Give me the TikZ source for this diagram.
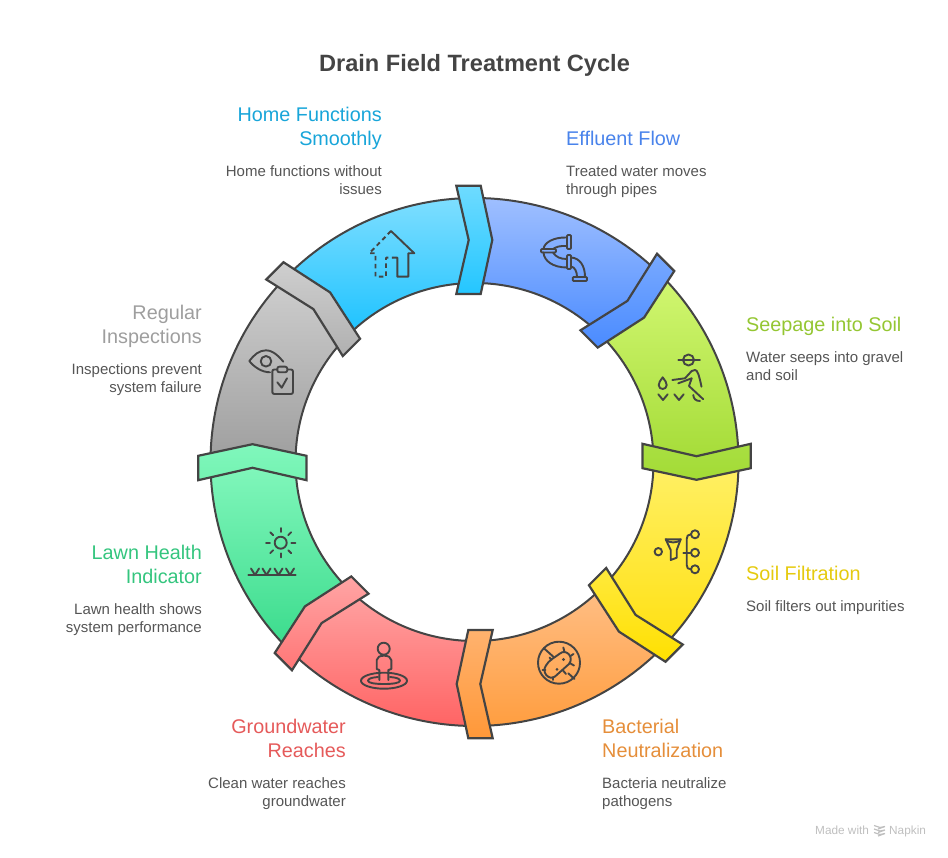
\documentclass[tikz,border=0pt]{standalone}
\usepackage{fontspec}
\setmainfont{Liberation Sans}
\usetikzlibrary{positioning,arrows.meta,calc}

\definecolor{inkline}{HTML}{444444}
\definecolor{inkbody}{HTML}{555555}
\definecolor{homeA}{HTML}{7EDEFF}     \definecolor{homeB}{HTML}{1CC2FF}
\definecolor{homeC}{HTML}{6EDBFF}     \definecolor{homeD}{HTML}{24C6FF}
\definecolor{effluentA}{HTML}{9FBFFF} \definecolor{effluentB}{HTML}{4F8EFF}
\definecolor{effluentC}{HTML}{78A9FF} \definecolor{effluentD}{HTML}{4A8BFF}
\definecolor{seepageA}{HTML}{D2F772}  \definecolor{seepageB}{HTML}{A5DC38}
\definecolor{seepageC}{HTML}{A9DF42}  \definecolor{seepageD}{HTML}{A3DB35}
\definecolor{filterA}{HTML}{FFF066}   \definecolor{filterB}{HTML}{FFE010}
\definecolor{filterC}{HTML}{FFE93C}   \definecolor{filterD}{HTML}{FFE000}
\definecolor{bacteriaA}{HTML}{FFBE85} \definecolor{bacteriaB}{HTML}{FF9E40}
\definecolor{bacteriaC}{HTML}{FFB26E} \definecolor{bacteriaD}{HTML}{FF9838}
\definecolor{groundA}{HTML}{FFA3A3}   \definecolor{groundB}{HTML}{FF6464}
\definecolor{groundC}{HTML}{FFA5A5}   \definecolor{groundD}{HTML}{FF7676}
\definecolor{lawnA}{HTML}{82F7BC}     \definecolor{lawnB}{HTML}{3ADB8C}
\definecolor{lawnC}{HTML}{80F7BC}     \definecolor{lawnD}{HTML}{74F3B2}
\definecolor{inspectA}{HTML}{CFCFCF}  \definecolor{inspectB}{HTML}{9E9E9E}
\definecolor{inspectC}{HTML}{CFCFCF}  \definecolor{inspectD}{HTML}{B0B0B0}

\begin{document}
\begin{tikzpicture}[
  x=1pt, y=-1pt,
  segment/.style={draw=inkline, line width=2pt},
  chevron/.style={draw=inkline, line width=2.2pt},
  icon/.style={draw=inkline, line width=1.9pt, line cap=round, line join=round},
  headtxt/.style={font=\fontsize{19.8}{24}\selectfont, inner sep=0pt},
  headl/.style={headtxt, anchor=north west, align=left},
  headr/.style={headtxt, anchor=north east, align=right},
  bodytxt/.style={font=\fontsize{15}{18}\selectfont, inner sep=0pt, text=inkbody},
  bodyl/.style={bodytxt, anchor=north west, align=left},
  bodyr/.style={bodytxt, anchor=north east, align=right},
  brand/.style={font=\fontsize{11.8}{13}\selectfont, inner sep=0pt, text=black!25}
]
\useasboundingbox (0,0) rectangle (948,858);
% ----- ring: segments first, then the chevrons over their ends -----
\begin{scope}[shift={(474.5,462)}, y=1pt]
  \foreach \a/\seg in {135/home, 90/effluent, 45/seepage, 0/filter, -45/bacteria, -90/ground, -135/lawn, 180/inspect}{
    \pgfmathsetmacro{\b}{\a-45}
    \draw[segment, top color=\seg A, bottom color=\seg B]
      (\a:264) arc[start angle=\a, end angle=\b, radius=264] -- (\b:179)
      arc[start angle=\b, end angle=\a, radius=179] -- cycle;
  }
  \foreach \a/\seg in {135/home, 90/effluent, 45/seepage, 0/filter, -45/bacteria, -90/ground, -135/lawn, 180/inspect}{
    \pgfmathsetmacro{\b}{\a-135}
    \draw[chevron, top color=\seg C, bottom color=\seg D, rotate=\b]
      (-18.2,276.3) -- (6.2,276.3) -- (17.8,222) -- (6.2,168) -- (-18.2,168) -- (-5.8,222) -- cycle;
  }
\end{scope}
% ----- title -----
\node[font=\fontsize{23.6}{28}\selectfont\bfseries, text=inkline, inner sep=0pt] (title) at (474.5,65.5) {Drain Field Treatment Cycle};
% ----- labels, right side -----
\node[headl, text=effluentB!92!black]  (effluenth) at (566,130.5) {Effluent Flow};
\node[bodyl]                           (effluentb) at (566,165)   {Treated water moves\\through pipes};
\node[headl, text=seepageB!90!black]   (seepageh)  at (746,316.5) {Seepage into Soil};
\node[bodyl]                           (seepageb)  at (746,351)   {Water seeps into gravel\\and soil};
\node[headl, text=filterB!90!black]    (filterh)   at (746,565.5) {Soil Filtration};
\node[bodyl]                           (filterb)   at (746,600)   {Soil filters out impurities};
\node[headl, text=bacteriaB!90!black]  (bacteriah) at (602,718.5) {Bacterial\\Neutralization};
\node[bodyl]                           (bacteriab) at (602,777)   {Bacteria neutralize\\pathogens};
% ----- labels, left side -----
\node[headr, text=groundB!90!black]    (groundh)   at (346,718.5) {Groundwater\\Reaches};
\node[bodyr]                           (groundb)   at (346,777)   {Clean water reaches\\groundwater};
\node[headr, text=lawnB!90!black]      (lawnh)     at (202,544.5) {Lawn Health\\Indicator};
\node[bodyr]                           (lawnb)     at (202,603)   {Lawn health shows\\system performance};
\node[headr, text=inspectB]            (inspecth)  at (202,304.5) {Regular\\Inspections};
\node[bodyr]                           (inspectb)  at (202,363)   {Inspections prevent\\system failure};
\node[headr, text=homeB!85!black]      (homeh)     at (382,106.5) {Home Functions\\Smoothly};
\node[bodyr]                           (homeb)     at (382,165)   {Home functions without\\issues};
% ----- icon: pipes -----
\draw[icon, rounded corners=1pt] (567,235) rectangle (571,249);
\draw[icon] (567,237.5) .. controls (553,237) and (544,243) .. (543.5,249);
\draw[icon] (567,246) .. controls (560,245.5) and (556,247) .. (553,249);
\draw[icon, rounded corners=1pt] (541,249) rectangle (556,252.5);
\draw[icon] (543.5,252.5) .. controls (544,261) and (553,267.5) .. (567,267.5);
\draw[icon] (553,252.5) .. controls (556,257) and (560,259) .. (567,259);
\draw[icon, rounded corners=1pt] (567,255) rectangle (571,269);
\draw[icon] (571,257.5) .. controls (580,258) and (585,266) .. (585,277);
\draw[icon] (571,266.5) .. controls (575,267) and (577,272) .. (577,277);
\draw[icon, rounded corners=1pt] (572.7,277) rectangle (587,281);
% ----- icon: gardener -----
\draw[icon] (678.3,360) -- (700,360);
\draw[icon] (688.5,360) circle[radius=5.5];
\draw[icon] (672.3,380) -- (685,378.3) -- (691.7,371) -- (695,370) .. controls (697.5,370) and (699,375) .. (701.5,386.7);
\draw[icon] (678.3,383.3) -- (691.7,378.3) -- (689,386) -- (703.3,399.3);
\draw[icon] (693.3,395) .. controls (693.5,399) and (696,401) .. (700,401);
\draw[icon] (662.7,377.3) .. controls (665,381) and (666.7,382) .. (666.7,385) .. controls (666.7,390.3) and (658.7,390.3) .. (658.7,385) .. controls (658.7,382) and (660.4,381) .. (662.7,377.3) -- cycle;
\foreach \vx in {663,679}{\draw[icon] (\vx-4.7,394.3) -- (\vx,400) -- (\vx+4.7,394.3);}
% ----- icon: funnel -----
\draw[icon] (658.3,551.7) circle[radius=3.7];
\draw[icon] (665.7,539.3) -- (680.7,539.3) -- (676.7,550) -- (676.7,557.7) -- (670.7,560) -- (670.7,550) -- cycle;
\draw[icon] (665.7,539.3) .. controls (668,543.5) and (678.5,543.5) .. (680.7,539.3);
\foreach \cy in {534.3,552.7,569.3}{\draw[icon] (695,\cy) circle[radius=4];}
\draw[icon] (691,534.3) .. controls (688,534.3) and (686.7,536) .. (686.7,539) -- (686.7,565) .. controls (686.7,568) and (688,569.3) .. (691,569.3);
\draw[icon] (683.3,552.7) -- (691,552.7);
% ----- icon: bacteria -----
\draw[icon] (559,662.7) circle[radius=21];
\draw[icon] (544,648.3) -- (553.3,656.7);
\draw[icon] (568.3,673.3) -- (574.5,679);
\draw[icon] (560,653.5) .. controls (566,648.5) and (574.5,657) .. (569,664) -- (555,676.5) .. controls (549,681) and (541,672) .. (546,665.5) .. controls (549,660) and (554,658) .. (560,653.5) -- cycle;
\foreach \px/\py/\qx/\qy in {563.3/647.5/564.3/651, 573.5/654/570.5/656, 574/665.5/570.5/663.5, 566/674/563/670.5, 553.3/680/553.3/677, 542.5/670/545.5/670, 549.5/657.5/551.5/660}{
  \draw[icon] (\px,\py) -- (\qx,\qy);
}
\fill[inkline] (557,669.3) circle[radius=1.5] (563.5,659.5) circle[radius=1.7];
% ----- icon: person in ring -----
\draw[icon] (383.7,648.7) circle[radius=6];
\draw[icon] (379.3,680) -- (379.3,670) -- (376.7,669) -- (376.7,660) .. controls (377,657) and (380,655.7) .. (384,655.7) .. controls (388,655.7) and (391,657) .. (391.3,660) -- (391.3,669) -- (388.3,670) -- (388.3,680);
\draw[icon] (384,680.7) ellipse[x radius=23, y radius=8];
\draw[icon] (378,677) .. controls (371,677.5) and (368,679) .. (368,680.7) .. controls (368,683) and (375,684) .. (384,684) .. controls (393,684) and (400,683) .. (400,680.7) .. controls (400,679) and (397,677.5) .. (390,677);
% ----- icon: sun over grass -----
\draw[icon] (280.7,542.7) circle[radius=6];
\foreach \ang in {0,45,...,315}{\draw[icon] ($(280.7,542.7)+(\ang:10.7)$) -- ($(280.7,542.7)+(\ang:14.7)$);}
\draw[icon] (248.3,575) -- (295.7,575);
\foreach \vx in {255,266.5,278.5,290}{\draw[icon] (\vx-4,568.5) -- (\vx,575) -- (\vx+4,568.5);}
% ----- icon: eye and clipboard -----
\draw[icon] (283.3,361.7) .. controls (276,353) and (271,350.3) .. (266,350.3) .. controls (259,350.3) and (254,355) .. (249.3,361) .. controls (254,367) and (262,372.3) .. (270,372.3);
\draw[icon] (266,361.3) circle[radius=5.3];
\draw[icon, rounded corners=2pt] (272.3,369.5) rectangle (293,394);
\draw[icon, rounded corners=2pt, fill=inspectB!60!inspectA] (277.3,366.7) rectangle (287.3,372.3);
\draw[icon] (277.3,382.3) -- (281.7,387.7) -- (287,378.3);
% ----- icon: house, half dashed -----
\draw[icon] (391,231) -- (414.3,253.3) -- (408.3,253.3) -- (408.3,276.7) -- (397.3,276.7) -- (397.3,257.7) -- (393,257.7);
\draw[icon, line cap=butt, dash pattern=on 4.5pt off 3.5pt] (391,231) -- (369.3,253.3) -- (375.5,253.3) -- (375.5,276.7) -- (386,276.7) -- (386,257.7) -- (393,257.7);
% ----- footer mark -----
\node[brand, anchor=base west] (madewith) at (815,834.5) {Made with};
\node[brand, anchor=base west] (napkin)   at (889,834.5) {Napkin};
\foreach \ly in {825.5,829,832.5}{
  \draw[black!25, line width=1.2pt] (874,\ly) -- (880,\ly+2) -- (885,\ly+1) -- (878,\ly+3.5);
}
\end{tikzpicture}
\end{document}
